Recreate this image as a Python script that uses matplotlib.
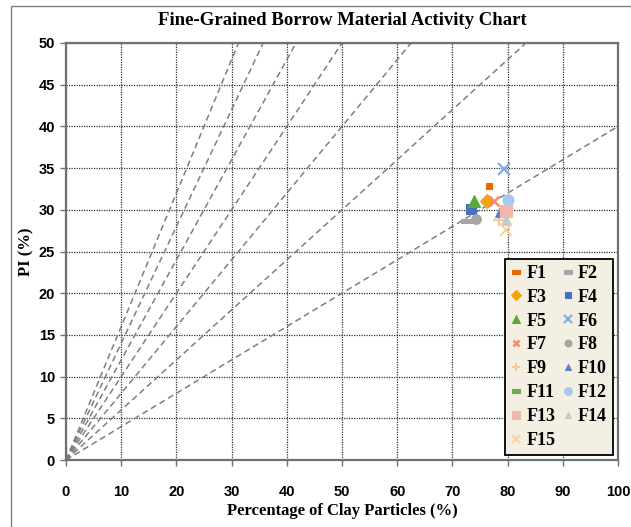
import matplotlib
matplotlib.use("Agg")
import matplotlib.pyplot as plt
import numpy as np
from matplotlib.path import Path
from matplotlib.patches import Rectangle

# Sample results: clay fraction (%) and plasticity index (%)
samples = ["F1", "F2", "F3", "F4", "F5", "F6", "F7", "F8",
           "F9", "F10", "F11", "F12", "F13", "F14", "F15"]
clay_pct = [76.6, 72.7, 76.3, 73.3, 74.0, 79.3, 77.6, 74.3,
            78.4, 78.7, 79.5, 80.0, 79.8, 79.7, 79.7]
pi_pct = [32.9, 28.7, 31.1, 30.1, 31.1, 34.9, 31.1, 28.9,
          28.8, 29.7, 30.0, 31.2, 29.9, 28.8, 27.6]

# Activity reference lines (PI / clay fraction)
activity_slopes = [0.4, 0.6, 0.8, 1.0, 1.2, 1.4, 1.6]

x_ticks = list(range(0, 101, 10))
y_ticks = list(range(0, 51, 5))

# Short horizontal bar marker
dash = Path([(-0.5, -0.22), (0.5, -0.22), (0.5, 0.22), (-0.5, 0.22), (-0.5, -0.22)],
            [Path.MOVETO, Path.LINETO, Path.LINETO, Path.LINETO, Path.CLOSEPOLY])

styles = {
    "F1": dict(marker="s", color="#E36C09", ms=5),
    "F2": dict(marker=dash, color="#A6A6A6", ms=8),
    "F3": dict(marker="D", color="#F2A30F", ms=7),
    "F4": dict(marker="s", color="#4472C4", ms=7),
    "F5": dict(marker="^", color="#5FA83B", ms=8),
    "F6": dict(marker="x", color="#7FAADC", ms=8, mew=1.5),
    "F7": dict(marker="x", color="#F08C6A", ms=7, mew=1.8),
    "F8": dict(marker="o", color="#A5A5A5", ms=7),
    "F9": dict(marker="+", color="#F9C88A", ms=8, mew=1.5),
    "F10": dict(marker="^", color="#5B84CC", ms=7),
    "F11": dict(marker=dash, color="#70AD47", ms=8),
    "F12": dict(marker="o", color="#A9C8EC", ms=8),
    "F13": dict(marker="s", color="#F4B6A8", ms=8),
    "F14": dict(marker="^", color="#C9C9C9", ms=7),
    "F15": dict(marker="x", color="#FAD3A0", ms=8, mew=1.5),
}

fig = plt.figure(figsize=(6.31, 5.27), dpi=100)
ax = fig.add_axes([66 / 631, 1 - 460 / 527, 552 / 631, 417 / 527])

# Outer chart frame
fig.patches.append(Rectangle((11 / 631, -0.05), 1.2, 1 - 6 / 527 + 0.05,
                             transform=fig.transFigure, fill=False,
                             edgecolor="#7f7f7f", linewidth=1.0, zorder=0))

xs = np.array([0, 100])
for s in activity_slopes:
    ax.plot(xs, s * xs, color="#7f7f7f", lw=1.1, ls=(0, (4, 2.5)), zorder=2,
            solid_capstyle="butt")

handles = {}
for name, x, y in zip(samples, clay_pct, pi_pct):
    st = styles[name]
    h, = ax.plot([x], [y], ls="none", marker=st["marker"], color=st["color"],
                 markersize=st["ms"], markeredgewidth=st.get("mew", 0.8),
                 markeredgecolor=st["color"], zorder=3, label=name)
    handles[name] = h

# Legend proxies (F1 drawn as a dash in the key)
legend_handles = dict(handles)
legend_handles["F1"], = ax.plot([], [], ls="none", marker=dash, color="#E36C09",
                                markersize=8, markeredgewidth=0.8)

ax.set_xlim(0, 100)
ax.set_ylim(0, 50)
ax.set_xticks(x_ticks)
ax.set_yticks(y_ticks)
ax.grid(True, color="#333333", ls=(0, (1, 1)), lw=0.9)
ax.set_axisbelow(True)

for sp in ax.spines.values():
    sp.set_color("#707070")
    sp.set_linewidth(1.6)
ax.tick_params(direction="out", length=4, width=1, color="#707070", pad=6)
for lab in ax.get_xticklabels() + ax.get_yticklabels():
    lab.set_fontfamily("Liberation Sans")
    lab.set_fontweight("bold")
    lab.set_fontsize(10.5)
ax.tick_params(axis="x", pad=14)
ax.tick_params(axis="y", pad=4)

serif = "Liberation Serif"
ax.set_title("Fine-Grained Borrow Material Activity Chart", fontfamily=serif,
             fontweight="bold", fontsize=13.5, pad=13)
ax.set_xlabel("Percentage of Clay Particles (%)", fontfamily=serif,
              fontweight="bold", fontsize=12, labelpad=3)
ax.set_ylabel("PI (%)", fontfamily=serif, fontweight="bold", fontsize=12,
              labelpad=3)

# Legend filled row by row: F1 F2 / F3 F4 / ...
order = samples[0::2] + samples[1::2]
leg = ax.legend([legend_handles[n] for n in order], order, ncol=2,
                loc="upper right", bbox_to_anchor=(0.991, 0.483),
                prop=dict(family=serif, weight="bold", size=13),
                frameon=True, fancybox=False, edgecolor="#000000",
                facecolor="#F3F0E3", framealpha=1.0,
                handlelength=0.5, handletextpad=0.3, columnspacing=0.45,
                labelspacing=0.38, borderpad=0.35, borderaxespad=0,
                markerscale=0.7)
leg.get_frame().set_linewidth(1.3)

fig.savefig("out.png", dpi=100)
